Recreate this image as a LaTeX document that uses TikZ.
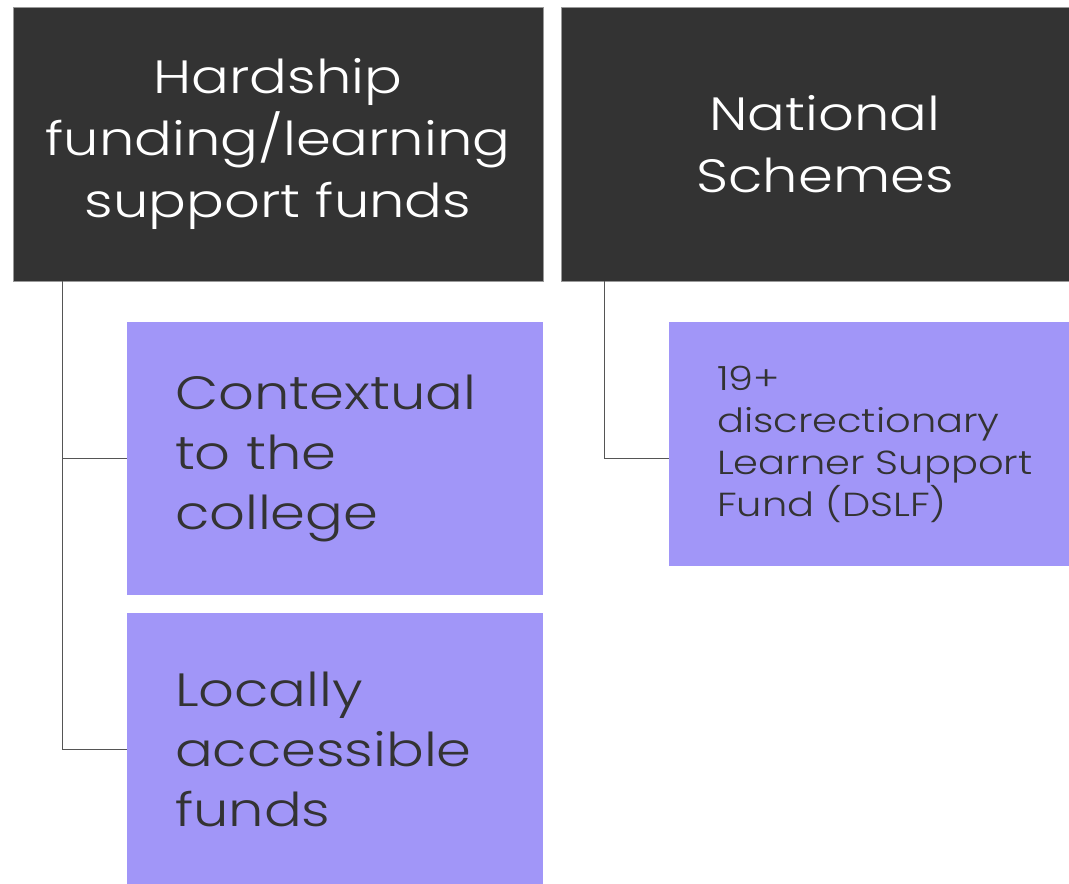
\documentclass[tikz,border=0pt]{standalone}
\usepackage{fontspec}
\setmainfont{Poppins}[UprightFont=* Light, FakeStretch=1.2]
\definecolor{headgray}{HTML}{333333}
\definecolor{leafblue}{HTML}{A196F8}
\definecolor{linegray}{HTML}{555555}
\begin{document}
\begin{tikzpicture}[x=0.75pt, y=-0.75pt,
	head/.style={draw=gray!80, line width=0.6pt, fill=headgray, text=white, align=center,
		minimum height=205.5pt, inner sep=0pt,
		font=\fontsize{35}{46.5}\selectfont},
	leaf/.style={fill=leafblue, text=headgray, align=left, inner xsep=36pt, inner ysep=0pt,
		minimum width=312pt, text width=240pt,
		font=\fontsize{35}{45}\selectfont},
	link/.style={draw=linegray, line width=0.8pt}]
\clip (0,0) rectangle (1069,883);
\fill[white] (0,0) rectangle (1069,883);

	% top row
	\node[head, minimum width=397.5pt] (hard) at (278,144) {Hardship\\funding/learning\\support funds};
	\node[head, minimum width=396pt] (nat) at (825,144) {National\\Schemes};

	% leaves
	\node[leaf, minimum height=204.75pt] (ctx) at (335,458.5) {Contextual\\to the\\college};
	\node[leaf, minimum height=204.75pt] (loc) at (335,749.5) {Locally\\accessible\\funds};
	\node[leaf, minimum height=183pt, font=\fontsize{25}{31.5}\selectfont] (dslf) at (877,444)
		{19+\\discrectionary\\Learner~Support\\Fund (DSLF)};

	% connectors
	\draw[link] (hard.south west) ++(50,0) |- (ctx.west)
		(hard.south west) ++(50,0) |- (loc.west);
	\draw[link] (nat.south west) ++(44,0) |- (ctx.west -| dslf.west);
\end{tikzpicture}
\end{document}
